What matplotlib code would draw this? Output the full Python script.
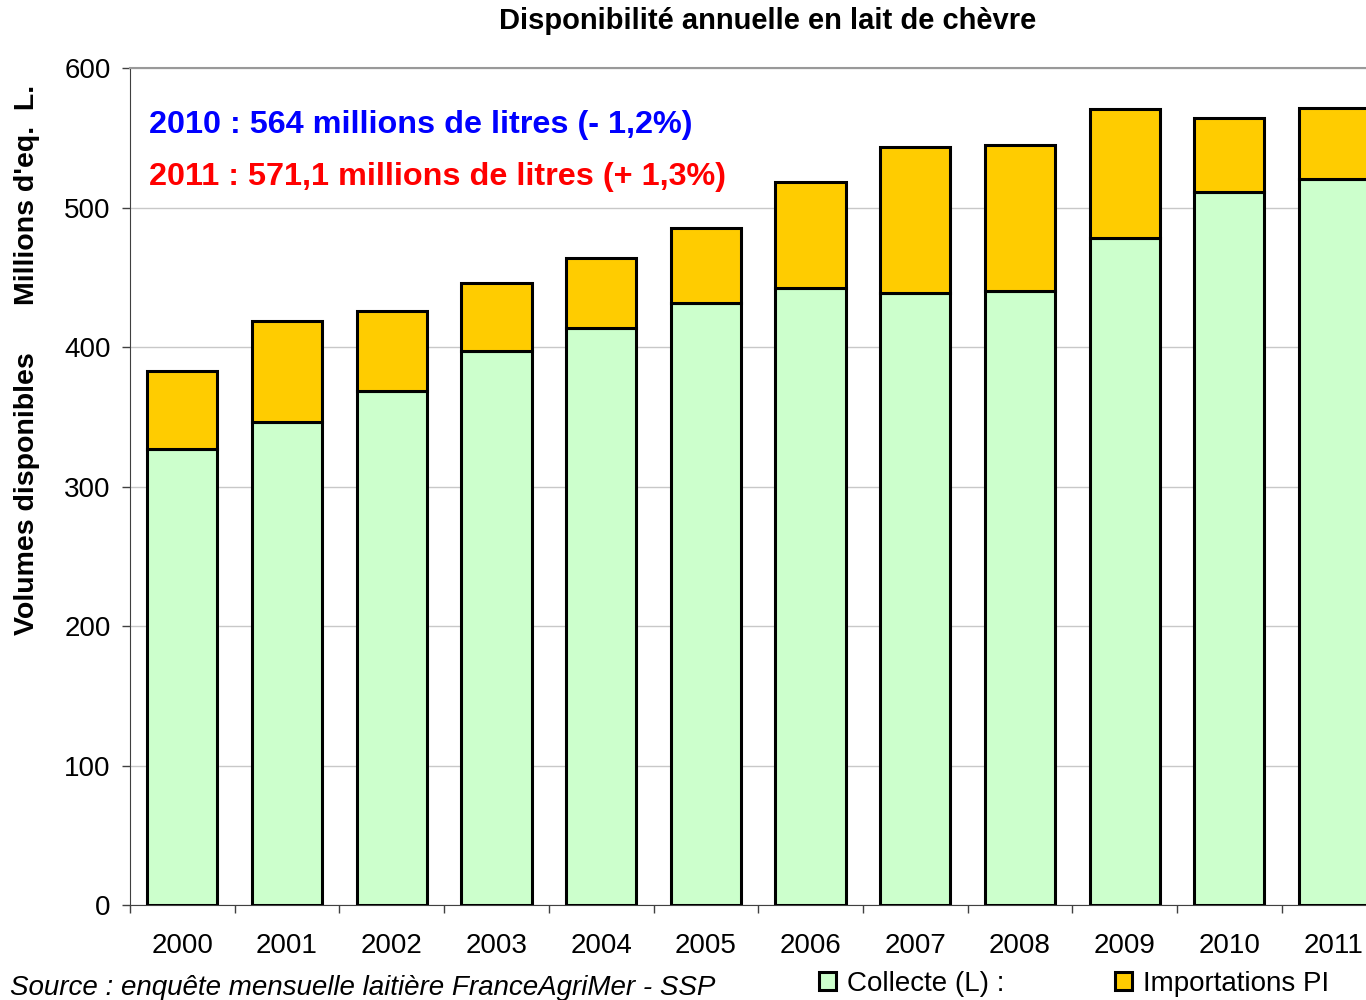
import matplotlib
matplotlib.use("Agg")
import matplotlib.pyplot as plt
import numpy as np

plt.rcParams['font.family'] = ['Liberation Sans', 'DejaVu Sans']

years = ['2000', '2001', '2002', '2003', '2004', '2005', '2006', '2007', '2008', '2009', '2010', '2011']
collecte = [326.9, 346.2, 368.5, 397.1, 413.6, 431.5, 442.3, 438.7, 440.1, 478.1, 511.1, 520.4]
total = [382.8, 418.6, 425.8, 445.9, 463.8, 485.3, 518.3, 543.4, 544.8, 570.6, 564.0, 571.1]
importations = [t - c for t, c in zip(total, collecte)]
yticks = [0, 100, 200, 300, 400, 500, 600]

fig = plt.figure(figsize=(13.66, 10), dpi=100)
# axes extends beyond the right edge of the figure (chart is cut)
ax = fig.add_axes([130/1366, 1 - 905/1000, (12*104.7)/1366, (905-68)/1000])

x = np.arange(len(years))
ax.bar(x, collecte, width=0.67, color='#CCFFCC', edgecolor='black', linewidth=2.2, zorder=3,
       label='Collecte (L) :')
ax.bar(x, importations, bottom=collecte, width=0.67, color='#FFCC00', edgecolor='black',
       linewidth=2.2, zorder=3, label='Importations PI')

ax.set_xlim(-0.5, len(years) - 0.5)
ax.set_ylim(0, 600)
ax.set_yticks(yticks)
ax.set_yticklabels([str(v) for v in yticks], fontsize=20)
ax.yaxis.grid(True, color='#C8C8C8', linewidth=1, zorder=0)
ax.set_xticks(x)
ax.set_xticklabels(years, fontsize=20)
ax.tick_params(axis='x', length=0, pad=20)
ax.set_xticks(np.arange(len(years)) - 0.5, minor=True)
ax.tick_params(axis='x', which='minor', length=6, width=1, color='#404040', direction='out')
ax.tick_params(axis='y', length=6, width=1, color='#404040', direction='out', pad=8)

ax.spines['top'].set_color('#999999')
ax.spines['top'].set_linewidth(1.5)
ax.spines['right'].set_visible(False)
ax.spines['left'].set_color('#404040')
ax.spines['bottom'].set_color('#404040')

ax.text(0.015, 0.932, '2010 : 564 millions de litres (- 1,2%)', transform=ax.transAxes,
        color='#0000FF', fontsize=23.3, fontweight='bold', va='center', ha='left')
ax.text(0.015, 0.870, '2011 : 571,1 millions de litres (+ 1,3%)', transform=ax.transAxes,
        color='#FF0000', fontsize=23.3, fontweight='bold', va='center', ha='left')

fig.text(768/1366, 1 - 21/1000, 'Disponibilité annuelle en lait de chèvre', ha='center', va='center',
         fontsize=21, fontweight='bold')
fig.text(27/1366, 1 - 360/1000, 'Volumes disponibles      Millions d\'eq.  L.', rotation=90,
         ha='center', va='center', fontsize=20.5, fontweight='bold')

fig.text(10/1366, 1 - 988/1000, 'Source : enquête mensuelle laitière FranceAgriMer - SSP',
         fontsize=20, style='italic', ha='left', va='center')

handles, labels = ax.get_legend_handles_labels()
fig.legend(handles, labels, loc='center left', bbox_to_anchor=(808/1366, 1 - 984/1000), ncol=2,
           frameon=False, fontsize=20, handlelength=0.6, handleheight=0.6, handletextpad=0.4,
           columnspacing=4.0, borderaxespad=0)

fig.savefig('out.png', dpi=100)
